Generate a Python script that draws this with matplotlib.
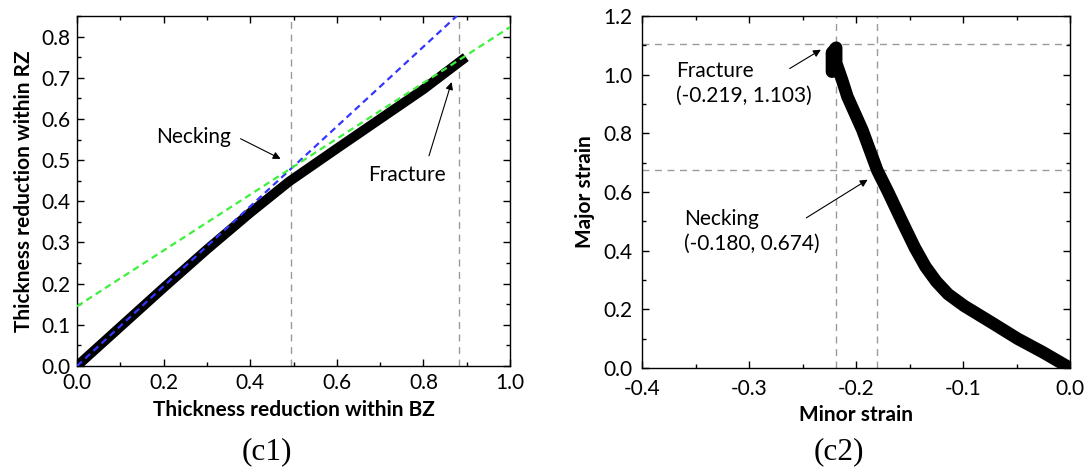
import matplotlib
matplotlib.use('Agg')
from matplotlib import pyplot as plt
from matplotlib.ticker import MultipleLocator, FormatStrFormatter

# (c1) thickness reduction
bz = [0.0, 0.1, 0.2, 0.3, 0.4, 0.49, 0.6, 0.7, 0.8, 0.889]
rz = [0.0, 0.095, 0.19, 0.283, 0.372, 0.448, 0.528, 0.600, 0.672, 0.743]
blue_x = [0.0, 0.877]
blue_y = [0.0, 0.85]
green_x = [0.0, 1.0]
green_y = [0.145, 0.823]
bz_neck = 0.494
bz_frac = 0.882

# (c2) strain path (ends in a small blob near fracture)
minor = [0.0, -0.025, -0.049, -0.072, -0.099, -0.114, -0.125, -0.135, -0.145,
         -0.157, -0.170, -0.180, -0.194, -0.208, -0.213, -0.2185, -0.2185,
         -0.2225, -0.2225]
major = [0.0, 0.053, 0.100, 0.152, 0.212, 0.252, 0.295, 0.345, 0.410,
         0.500, 0.600, 0.673, 0.811, 0.925, 0.982, 1.040, 1.092,
         1.075, 1.010]
neck = (-0.180, 0.674)
frac = (-0.219, 1.103)

plt.rcParams['font.family'] = ['Lato', 'DejaVu Sans']
fs = 15

W, H = 1086, 468
fig = plt.figure(figsize=(W / 100, H / 100), dpi=100)


def box(l, t, r, b):
    return [l / W, 1 - b / H, (r - l) / W, (b - t) / H]


ax1 = fig.add_axes(box(77, 16, 510, 366))
ax2 = fig.add_axes(box(642, 16, 1070, 368))

gray = '#9a9a9a'
dash = (0, (5, 4))

# ---- left panel
ax1.axvline(bz_neck, color=gray, ls=dash, lw=1, zorder=1)
ax1.axvline(bz_frac, color=gray, ls=dash, lw=1, zorder=1)
ax1.plot(bz, rz, color='k', lw=7, solid_capstyle='projecting', zorder=2)
ax1.plot(blue_x, blue_y, color='#3535ff', ls=(0, (3, 2)), lw=1.6, zorder=3)
ax1.plot(green_x, green_y, color='#3cf03c', ls=(0, (3, 2)), lw=1.6, zorder=3)
ax1.set_xlim(0, 1.0)
ax1.set_ylim(0, 0.85)
ax1.xaxis.set_major_locator(MultipleLocator(0.2))
ax1.xaxis.set_minor_locator(MultipleLocator(0.1))
ax1.yaxis.set_major_locator(MultipleLocator(0.1))
ax1.yaxis.set_minor_locator(MultipleLocator(0.05))
ax1.set_xlabel('Thickness reduction within BZ', fontsize=fs, fontweight='bold', labelpad=5)
ax1.set_ylabel('Thickness reduction within RZ', fontsize=fs, fontweight='bold', labelpad=5)
ax1.tick_params(axis='x', pad=5)
ax1.tick_params(axis='y', pad=5)

ax1.text(0.2695, 0.556, 'Necking', fontsize=fs, ha='center', va='center')
ax1.annotate('', xy=(0.476, 0.5), xytext=(0.372, 0.555),
             arrowprops=dict(arrowstyle='-|>', color='k', lw=0.8, mutation_scale=11))
ax1.text(0.763, 0.465, 'Fracture', fontsize=fs, ha='center', va='center')
ax1.annotate('', xy=(0.867, 0.696), xytext=(0.811, 0.504),
             arrowprops=dict(arrowstyle='-|>', color='k', lw=0.8, mutation_scale=11))

# ---- right panel
ax2.axhline(frac[1], color=gray, ls=dash, lw=1, zorder=1)
ax2.axhline(neck[1], color=gray, ls=dash, lw=1, zorder=1)
ax2.axvline(frac[0], color=gray, ls=dash, lw=1, zorder=1)
ax2.axvline(neck[0], color=gray, ls=dash, lw=1, zorder=1)
ax2.plot(minor, major, color='k', lw=9, solid_capstyle='round',
         solid_joinstyle='round', zorder=2)
ax2.set_xlim(-0.4, 0.0)
ax2.set_ylim(0, 1.2)
ax2.xaxis.set_major_locator(MultipleLocator(0.1))
ax2.xaxis.set_minor_locator(MultipleLocator(0.05))
ax2.yaxis.set_major_locator(MultipleLocator(0.2))
ax2.yaxis.set_minor_locator(MultipleLocator(0.1))
ax2.set_xlabel('Minor strain', fontsize=fs, fontweight='bold', labelpad=4)
ax2.set_ylabel('Major strain', fontsize=fs, fontweight='bold', labelpad=6)
ax2.tick_params(axis='x', pad=8)
ax2.tick_params(axis='y', pad=7)

ax2.text(-0.3685, 0.969, 'Fracture\n(%.3f, %.3f)' % frac, fontsize=fs,
         ha='left', va='center', linespacing=1.3)
ax2.annotate('', xy=(-0.2306, 1.090), xytext=(-0.2642, 1.016),
             arrowprops=dict(arrowstyle='-|>', color='k', lw=0.8, mutation_scale=11))
ax2.text(-0.3605, 0.466, 'Necking\n(%.3f, %.3f)' % neck, fontsize=fs,
         ha='left', va='center', linespacing=1.3)
ax2.annotate('', xy=(-0.1869, 0.647), xytext=(-0.2486, 0.507),
             arrowprops=dict(arrowstyle='-|>', color='k', lw=0.8, mutation_scale=11))

for ax in (ax1, ax2):
    ax.xaxis.set_major_formatter(FormatStrFormatter('%.1f'))
    ax.yaxis.set_major_formatter(FormatStrFormatter('%.1f'))
    ax.tick_params(which='both', direction='in', top=True, right=True,
                   labelsize=fs, width=1)
    ax.tick_params(which='major', length=5)
    ax.tick_params(which='minor', length=3)
    for s in ax.spines.values():
        s.set_linewidth(1)

fig.text(267 / W, 1 - 452 / H, '(c1)', family='Liberation Serif',
         fontsize=22.5, ha='center', va='center')
fig.text(839 / W, 1 - 452 / H, '(c2)', family='Liberation Serif',
         fontsize=22.5, ha='center', va='center')

fig.savefig('out.png', dpi=100)
